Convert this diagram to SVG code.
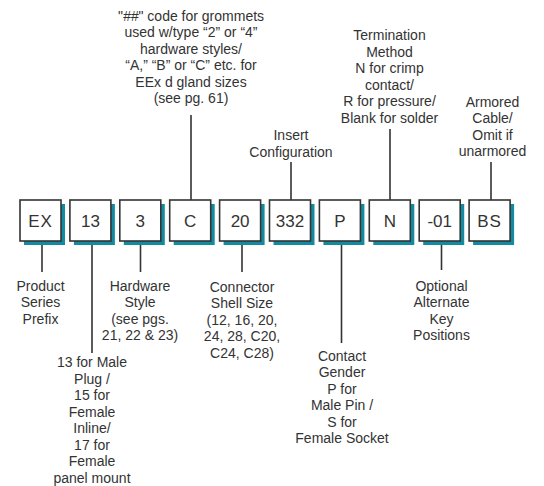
<svg xmlns="http://www.w3.org/2000/svg" width="544" height="486" viewBox="0 0 544 486">
<style>
text{font-family:"Liberation Sans",Arial,sans-serif;fill:#333;}
.lbl{font-size:14px;text-anchor:middle;}
.box{fill:#fff;stroke:#333;stroke-width:1.6;}
.sh{fill:#148aa0;}
.code{font-size:17px;text-anchor:middle;}
.ln{stroke:#333;stroke-width:1.6;fill:none;}
</style>
<rect width="544" height="486" fill="#fff"/>
<g id="connectors">
<line class="ln" x1="191" y1="115" x2="191" y2="200"/>
<line class="ln" x1="291" y1="162" x2="291" y2="200"/>
<line class="ln" x1="390" y1="129" x2="390" y2="200"/>
<line class="ln" x1="491" y1="162" x2="491" y2="200"/>
<line class="ln" x1="42" y1="240" x2="42" y2="272"/>
<line class="ln" x1="92" y1="240" x2="92" y2="353"/>
<line class="ln" x1="140.5" y1="240" x2="140.5" y2="272"/>
<line class="ln" x1="242" y1="240" x2="242" y2="272"/>
<line class="ln" x1="341.5" y1="240" x2="341.5" y2="343"/>
<line class="ln" x1="441.5" y1="240" x2="441.5" y2="270"/>
</g>
<g id="n-ex"><rect class="sh" x="24" y="204" width="41" height="41"/><rect class="box" x="20" y="200" width="41" height="41"/><text class="code" x="40.5" y="226.5" letter-spacing="1">EX</text></g>
<g id="n-13"><rect class="sh" x="73.9" y="204" width="41" height="41"/><rect class="box" x="69.9" y="200" width="41" height="41"/><text class="code" x="90.4" y="226.5">13</text></g>
<g id="n-3"><rect class="sh" x="123.8" y="204" width="41" height="41"/><rect class="box" x="119.8" y="200" width="41" height="41"/><text class="code" x="140.3" y="226.5">3</text></g>
<g id="n-c"><rect class="sh" x="173.7" y="204" width="41" height="41"/><rect class="box" x="169.7" y="200" width="41" height="41"/><text class="code" x="190.2" y="226.5">C</text></g>
<g id="n-20"><rect class="sh" x="223.6" y="204" width="41" height="41"/><rect class="box" x="219.6" y="200" width="41" height="41"/><text class="code" x="240.1" y="226.5">20</text></g>
<g id="n-332"><rect class="sh" x="273.5" y="204" width="41" height="41"/><rect class="box" x="269.5" y="200" width="41" height="41"/><text class="code" x="290" y="226.5">332</text></g>
<g id="n-p"><rect class="sh" x="323.4" y="204" width="41" height="41"/><rect class="box" x="319.4" y="200" width="41" height="41"/><text class="code" x="339.9" y="226.5">P</text></g>
<g id="n-n"><rect class="sh" x="373.3" y="204" width="41" height="41"/><rect class="box" x="369.3" y="200" width="41" height="41"/><text class="code" x="389.8" y="226.5">N</text></g>
<g id="n-01"><rect class="sh" x="423.2" y="204" width="41" height="41"/><rect class="box" x="419.2" y="200" width="41" height="41"/><text class="code" x="439.7" y="226.5">-01</text></g>
<g id="n-bs"><rect class="sh" x="473.1" y="204" width="41" height="41"/><rect class="box" x="469.1" y="200" width="41" height="41"/><text class="code" x="489.6" y="226.5" letter-spacing="1">BS</text></g>
<g id="t-grommet">
<text class="lbl" x="191" y="20.5">"<tspan font-style="italic">##</tspan>" code for grommets</text>
<text class="lbl" x="191" y="37">used w/type “2” or “4”</text>
<text class="lbl" x="191" y="53.5">hardware styles/</text>
<text class="lbl" x="191" y="70">“A,” “B” or “C” etc. for</text>
<text class="lbl" x="191" y="86.5">EEx d gland sizes</text>
<text class="lbl" x="191" y="103">(see pg. 61)</text>
</g>
<g id="t-insert">
<text class="lbl" x="291" y="140">Insert</text>
<text class="lbl" x="291" y="156.5">Configuration</text>
</g>
<g id="t-term">
<text class="lbl" x="389.5" y="40">Termination</text>
<text class="lbl" x="389.5" y="56.5">Method</text>
<text class="lbl" x="389.5" y="73">N for crimp</text>
<text class="lbl" x="389.5" y="89.5">contact/</text>
<text class="lbl" x="389.5" y="106">R for pressure/</text>
<text class="lbl" x="389.5" y="122.5">Blank for solder</text>
</g>
<g id="t-armored">
<text class="lbl" x="492.5" y="106.5">Armored</text>
<text class="lbl" x="492.5" y="123">Cable/</text>
<text class="lbl" x="492.5" y="139.5">Omit if</text>
<text class="lbl" x="492.5" y="156">unarmored</text>
</g>
<g id="t-prefix">
<text class="lbl" x="40.5" y="290.5">Product</text>
<text class="lbl" x="40.5" y="307">Series</text>
<text class="lbl" x="40.5" y="323.5">Prefix</text>
</g>
<g id="t-plug">
<text class="lbl" x="92" y="367">13 for Male</text>
<text class="lbl" x="92" y="383.5">Plug /</text>
<text class="lbl" x="92" y="400">15 for</text>
<text class="lbl" x="92" y="416.5">Female</text>
<text class="lbl" x="92" y="433">Inline/</text>
<text class="lbl" x="92" y="449.5">17 for</text>
<text class="lbl" x="92" y="466">Female</text>
<text class="lbl" x="92" y="482.5">panel mount</text>
</g>
<g id="t-hardware">
<text class="lbl" x="140" y="290.5">Hardware</text>
<text class="lbl" x="140" y="307">Style</text>
<text class="lbl" x="140" y="323.5">(see pgs.</text>
<text class="lbl" x="140" y="340">21, 22 &amp; 23)</text>
</g>
<g id="t-shell">
<text class="lbl" x="242" y="291.5">Connector</text>
<text class="lbl" x="242" y="308">Shell Size</text>
<text class="lbl" x="242" y="324.5">(12, 16, 20,</text>
<text class="lbl" x="242" y="341">24, 28, C20,</text>
<text class="lbl" x="242" y="357.5">C24, C28)</text>
</g>
<g id="t-gender">
<text class="lbl" x="342" y="360.5">Contact</text>
<text class="lbl" x="342" y="377">Gender</text>
<text class="lbl" x="342" y="393.5">P for</text>
<text class="lbl" x="342" y="410">Male Pin /</text>
<text class="lbl" x="342" y="426.5">S for</text>
<text class="lbl" x="342" y="443">Female Socket</text>
</g>
<g id="t-key">
<text class="lbl" x="441.5" y="290.5">Optional</text>
<text class="lbl" x="441.5" y="307">Alternate</text>
<text class="lbl" x="441.5" y="323.5">Key</text>
<text class="lbl" x="441.5" y="340">Positions</text>
</g>
</svg>
